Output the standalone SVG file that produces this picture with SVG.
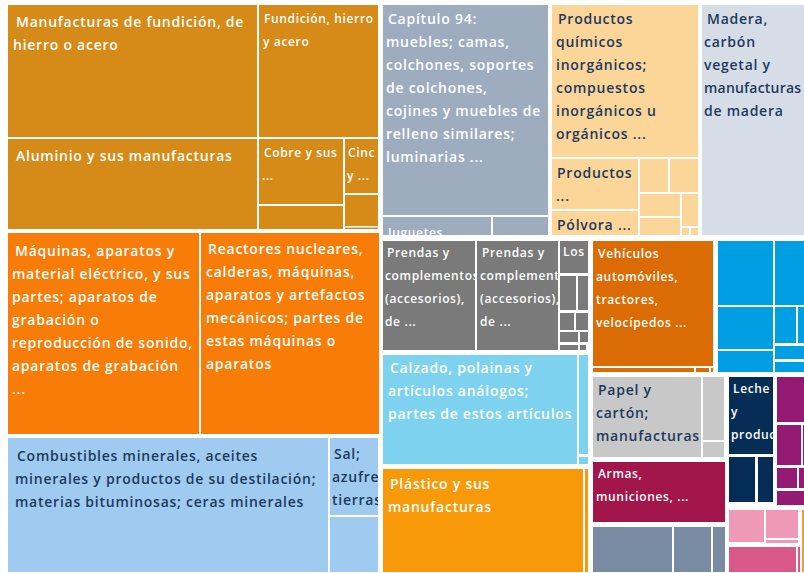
<svg xmlns="http://www.w3.org/2000/svg" width="804" height="573" viewBox="0 0 804 573">
<style>
text{font-family:"Open Sans","DejaVu Sans",sans-serif;font-weight:600;font-size:14px;letter-spacing:0.75px;fill:#ffffff}
.s{font-size:12px;letter-spacing:0.65px}
.d{fill:#1c3a5e}
.met{fill:#d68a18}.mac{fill:#f77c08}.cmb{fill:#a0cbf0}.cap{fill:#9eacbf}.pea{fill:#fcd598}
.mad{fill:#d6dde6}.gry{fill:#7a7a7a}.veh{fill:#db6b05}.blu{fill:#009fe3}.cal{fill:#7dd3ef}
.pla{fill:#f8990a}.pap{fill:#c8c8c8}.arm{fill:#a3164b}.sla{fill:#7a8ca3}.nav{fill:#062d56}
.pur{fill:#951a74}.pnk{fill:#ee9ab6}.dpk{fill:#d9588a}.tan{fill:#e8a33d}
</style>
<defs>
<clipPath id="cJug"><rect x="383" y="217" width="108" height="18"/></clipPath>
<clipPath id="cPr1"><rect x="383" y="241" width="92" height="109"/></clipPath>
<clipPath id="cPr2"><rect x="477" y="241" width="81" height="109"/></clipPath>
<clipPath id="cSal"><rect x="330" y="438" width="48" height="77"/></clipPath>
<clipPath id="cLec"><rect x="729" y="377" width="44" height="77"/></clipPath>
<clipPath id="cCin"><rect x="345" y="139" width="33" height="54"/></clipPath>
<clipPath id="cFun"><rect x="259" y="5" width="119" height="132"/></clipPath>
<clipPath id="cCob"><rect x="259" y="139" width="84" height="65"/></clipPath>
<clipPath id="cLos"><rect x="560" y="241" width="28" height="32"/></clipPath>
</defs>
<rect width="804" height="573" fill="#ffffff"/>

<g id="manufacturas-fundicion"><rect class="met" x="8" y="5" width="249" height="132"/><text x="16" y="27">Manufacturas de fundición, de</text><text x="13" y="50">hierro o acero</text></g>
<g id="fundicion"><rect class="met" x="259" y="5" width="119" height="132"/><g clip-path="url(#cFun)"><text class="s" x="264" y="23">Fundición, hierro</text><text class="s" x="263" y="46">y acero</text></g></g>
<g id="aluminio"><rect class="met" x="8" y="139" width="249" height="90"/><text x="16" y="161">Aluminio y sus manufacturas</text></g>
<g id="cobre"><rect class="met" x="259" y="139" width="84" height="65"/><g clip-path="url(#cCob)"><text class="s" x="264" y="157">Cobre y sus</text><text class="s" x="262" y="180">...</text></g></g>
<g id="met-5"><rect class="met" x="259" y="206" width="84" height="23"/></g>
<g id="cinc"><rect class="met" x="345" y="139" width="33" height="54"/><g clip-path="url(#cCin)"><text class="s" x="348" y="157">Cinc</text><text class="s" x="347" y="180">y ...</text></g></g>
<g id="met-7"><rect class="met" x="345" y="195" width="33" height="31"/></g>
<g id="met-8"><rect class="met" x="345" y="227.5" width="33" height="1.5"/></g>

<g id="maquinas"><rect class="mac" x="8" y="233" width="191" height="201"/><text x="15" y="256">Máquinas, aparatos y</text><text x="12" y="279">material eléctrico, y sus</text><text x="12" y="302">partes; aparatos de</text><text x="12" y="325">grabación o</text><text x="12" y="348">reproducción de sonido,</text><text x="12" y="371">aparatos de grabación</text><text x="12" y="394">...</text></g>
<g id="reactores"><rect class="mac" x="201" y="233" width="178" height="201"/><text x="208" y="254">Reactores nucleares,</text><text x="206" y="277">calderas, máquinas,</text><text x="206" y="300">aparatos y artefactos</text><text x="206" y="323">mecánicos; partes de</text><text x="206" y="346">estas máquinas o</text><text x="206" y="369">aparatos</text></g>

<g id="combustibles"><rect class="cmb" x="8" y="438" width="320" height="134"/><text class="d" x="17" y="461">Combustibles minerales, aceites</text><text class="d" x="15" y="484">minerales y productos de su destilación;</text><text class="d" x="15" y="507">materias bituminosas; ceras minerales</text></g>
<g id="sal"><rect class="cmb" x="330" y="438" width="48" height="77"/><g clip-path="url(#cSal)"><text class="d" x="334" y="459">Sal;</text><text class="d" x="332" y="482">azufre;</text><text class="d" x="332" y="505">tierras</text></g></g>
<g id="cmb-3"><rect class="cmb" x="330" y="517" width="48" height="55"/></g>

<g id="capitulo94"><rect class="cap" x="383" y="5" width="165" height="210"/><text x="388" y="24">Capítulo 94:</text><text x="386" y="47">muebles; camas,</text><text x="386" y="70">colchones, soportes</text><text x="386" y="93">de colchones,</text><text x="386" y="116">cojines y muebles de</text><text x="386" y="139">relleno similares;</text><text x="386" y="162">luminarias ...</text></g>
<g id="juguetes"><rect class="cap" x="383" y="217" width="108" height="18"/><g clip-path="url(#cJug)"><text class="s" x="388" y="237">Juguetes, ...</text></g></g>
<g id="cap-3"><rect class="cap" x="493" y="217" width="55" height="18"/></g>

<g id="quimicos"><rect class="pea" x="552" y="5" width="146" height="152"/><text class="d" x="558" y="24">Productos</text><text class="d" x="556" y="47">químicos</text><text class="d" x="556" y="70">inorgánicos;</text><text class="d" x="556" y="93">compuestos</text><text class="d" x="556" y="116">inorgánicos u</text><text class="d" x="556" y="139">orgánicos ...</text></g>
<g id="productos"><rect class="pea" x="552" y="159" width="86" height="50"/><text class="d" x="557" y="178">Productos</text><text class="d" x="556" y="201">...</text></g>
<g id="polvora"><rect class="pea" x="552" y="211" width="86" height="24"/><text class="d" x="557" y="230">Pólvora ...</text></g>
<g id="pea-4"><rect class="pea" x="640" y="159" width="28" height="33"/></g>
<g id="pea-5"><rect class="pea" x="670" y="159" width="28" height="33"/></g>
<g id="pea-6"><rect class="pea" x="640" y="194" width="40" height="22"/></g>
<g id="pea-7"><rect class="pea" x="682" y="194" width="16" height="32"/></g>
<g id="pea-8"><rect class="pea" x="640" y="218" width="40" height="17"/></g>
<g id="pea-9"><rect class="pea" x="682" y="228" width="7" height="7"/></g>
<g id="pea-10"><rect class="pea" x="691" y="228" width="7" height="7"/></g>

<g id="madera"><rect class="mad" x="702" y="5" width="102" height="230"/><text class="d" x="707" y="24">Madera,</text><text class="d" x="704" y="47">carbón</text><text class="d" x="704" y="70">vegetal y</text><text class="d" x="704" y="93" style="letter-spacing:0.2px">manufacturas</text><text class="d" x="704" y="116">de madera</text></g>

<g id="prendas1"><rect class="gry" x="383" y="241" width="92" height="109"/><g clip-path="url(#cPr1)"><text class="s" x="387" y="257">Prendas y</text><text class="s" x="385" y="280">complementos</text><text class="s" x="385" y="303">(accesorios),</text><text class="s" x="385" y="326">de ...</text></g></g>
<g id="prendas2"><rect class="gry" x="477" y="241" width="81" height="109"/><g clip-path="url(#cPr2)"><text class="s" x="482" y="257">Prendas y</text><text class="s" x="480" y="280">complementos</text><text class="s" x="480" y="303">(accesorios),</text><text class="s" x="480" y="326">de ...</text></g></g>
<g id="los"><rect class="gry" x="560" y="241" width="28" height="32"/><g clip-path="url(#cLos)"><text class="s" x="563" y="256">Los</text></g></g>
<g id="gry-4"><rect class="gry" x="560" y="276" width="16" height="34"/></g>
<g id="gry-5"><rect class="gry" x="578" y="276" width="10" height="34"/></g>
<g id="gry-6"><rect class="gry" x="560" y="313" width="14" height="17"/></g>
<g id="gry-7"><rect class="gry" x="576" y="313" width="12" height="17"/></g>
<g id="gry-8"><rect class="gry" x="560" y="332" width="18" height="10"/></g>
<g id="gry-9"><rect class="gry" x="580" y="332" width="8" height="10"/></g>
<g id="gry-10"><rect class="gry" x="560" y="345" width="18" height="5"/></g>
<g id="gry-11"><rect class="gry" x="580" y="345" width="6" height="5"/></g>

<g id="vehiculos"><rect class="veh" x="593" y="241" width="120" height="125"/><text class="s" x="598" y="258">Vehículos</text><text class="s" x="596" y="281">automóviles,</text><text class="s" x="596" y="304">tractores,</text><text class="s" x="596" y="327">velocípedos ...</text></g>
<g id="veh-2"><rect class="veh" x="593" y="368" width="101" height="4"/></g>
<g id="veh-3"><rect class="veh" x="696" y="368" width="13" height="4"/></g>
<g id="veh-4"><rect class="veh" x="711" y="368" width="2" height="4"/></g>

<g id="blu-1"><rect class="blu" x="718" y="241" width="55" height="64"/></g>
<g id="blu-2"><rect class="blu" x="775" y="241" width="29" height="64"/></g>
<g id="blu-3"><rect class="blu" x="718" y="307" width="55" height="42"/></g>
<g id="blu-4"><rect class="blu" x="718" y="351" width="55" height="21"/></g>
<g id="blu-5"><rect class="blu" x="775" y="307" width="21" height="36"/></g>
<g id="blu-6"><rect class="blu" x="798" y="307" width="6" height="36"/></g>
<g id="blu-7"><rect class="blu" x="775" y="346" width="29" height="13"/></g>
<g id="blu-8"><rect class="blu" x="775" y="362" width="29" height="10"/></g>

<g id="calzado"><rect class="cal" x="383" y="355" width="194" height="109"/><text x="390" y="373">Calzado, polainas y</text><text x="388" y="396">artículos análogos;</text><text x="388" y="419">partes de estos artículos</text></g>
<g id="cal-2"><rect class="cal" x="579" y="355" width="9" height="99"/></g>
<g id="cal-3"><rect class="cal" x="579" y="457" width="9" height="7"/></g>

<g id="plastico"><rect class="pla" x="383" y="469" width="200" height="103"/><text x="390" y="489">Plástico y sus</text><text x="388" y="512">manufacturas</text></g>
<g id="pla-2"><rect class="pla" x="585" y="469" width="3" height="103"/></g>

<g id="papel"><rect class="pap" x="593" y="377" width="108" height="80"/><text class="d" x="598" y="395">Papel y</text><text class="d" x="596" y="418">cartón;</text><text class="d" x="596" y="441">manufacturas</text></g>
<g id="pap-2"><rect class="pap" x="703" y="377" width="21" height="63"/></g>
<g id="pap-3"><rect class="pap" x="703" y="442" width="21" height="15"/></g>
<g id="armas"><rect class="arm" x="593" y="462" width="132" height="60"/><text class="s" x="598" y="478">Armas,</text><text class="s" x="596" y="501">municiones, ...</text></g>
<g id="sla-1"><rect class="sla" x="593" y="527" width="79" height="45"/></g>
<g id="sla-2"><rect class="sla" x="674" y="527" width="37" height="45"/></g>
<g id="sla-3"><rect class="sla" x="713" y="527" width="12" height="45"/></g>

<g id="leche"><rect class="nav" x="729" y="377" width="44" height="77"/><g clip-path="url(#cLec)"><text class="s" x="733" y="393">Leche</text><text class="s" x="731" y="416">y</text><text class="s" x="731" y="439">productos</text></g></g>
<g id="nav-2"><rect class="nav" x="729" y="457" width="26" height="45"/></g>
<g id="nav-3"><rect class="nav" x="758" y="457" width="15" height="45"/></g>

<g id="pur-1"><rect class="pur" x="777" y="377" width="27" height="45"/></g>
<g id="pur-2"><rect class="pur" x="777" y="425" width="24" height="40"/></g>
<g id="pur-3"><rect class="pur" x="803" y="425" width="1" height="40"/></g>
<g id="pur-4"><rect class="pur" x="777" y="468" width="20" height="20"/></g>
<g id="pur-5"><rect class="pur" x="799" y="468" width="5" height="20"/></g>
<g id="pur-6"><rect class="pur" x="777" y="491" width="27" height="14"/></g>

<g id="pnk-1"><rect class="pnk" x="729" y="510" width="35" height="32"/></g>
<g id="pnk-2"><rect class="pnk" x="766" y="510" width="32" height="28"/></g>
<g id="pnk-3"><rect class="pnk" x="766" y="540" width="32" height="3"/></g>
<g id="dpk-1"><rect class="dpk" x="729" y="547" width="67" height="25"/></g>
<g id="dpk-2"><rect class="dpk" x="798" y="547" width="2" height="25"/></g>
<g id="tan-1"><rect class="tan" x="802" y="510" width="2" height="62"/></g>

<g id="connectors"/>
</svg>
